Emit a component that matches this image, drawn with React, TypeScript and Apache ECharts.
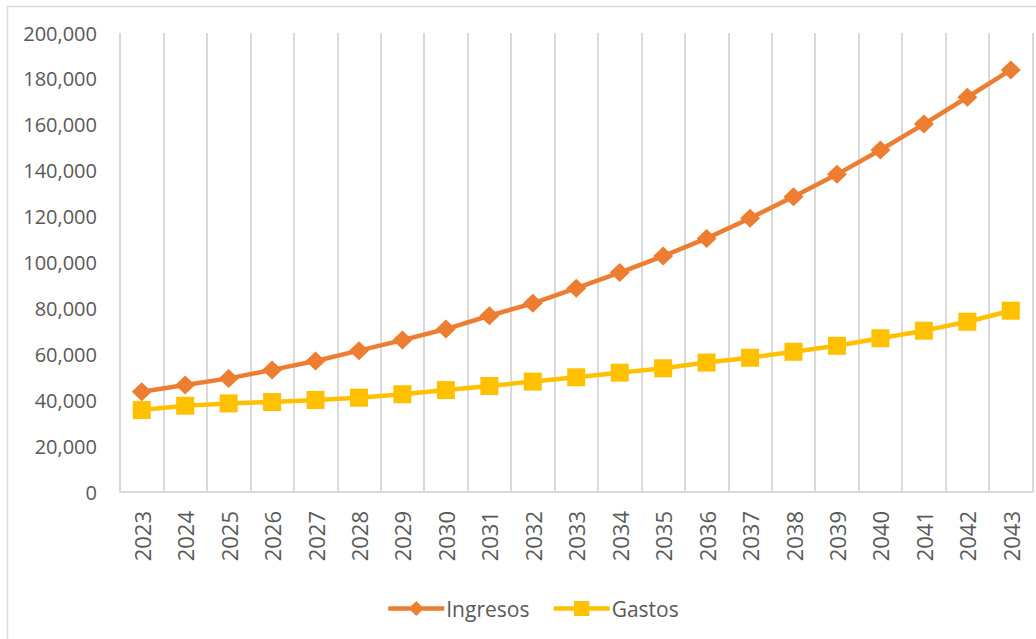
import React, { useEffect, useRef } from "react";
import * as echarts from "echarts";

const years = [
  "2023", "2024", "2025", "2026", "2027", "2028", "2029", "2030", "2031", "2032", "2033",
  "2034", "2035", "2036", "2037", "2038", "2039", "2040", "2041", "2042", "2043",
];
const ingresos = [
  43700, 46600, 49500, 53200, 57100, 61600, 66200, 71000, 76800, 82200, 88800,
  95600, 102800, 110500, 119300, 128700, 138400, 149000, 160300, 172000, 183900,
];
const gastos = [
  35700, 37600, 38600, 39200, 40100, 41100, 42600, 44400, 46200, 48100, 50000,
  52000, 53900, 56400, 58500, 61100, 63700, 67000, 70300, 74200, 79000,
];
const seriesNames = ["Ingresos", "Gastos"];
const yMin = 0;
const yMax = 200000;
const yStep = 20000;

const FONT = "'Open Sans', 'Noto Sans', sans-serif";
const TEXT = "#595959";
const GRID = "#d9d9d9";

export default function App() {
  const ref = useRef<HTMLDivElement>(null);
  useEffect(() => {
    if (!ref.current) return;
    const chart = echarts.init(ref.current, null, { renderer: "svg" });
    chart.setOption({
      animation: false,
      backgroundColor: "#ffffff",
      textStyle: { fontFamily: FONT },
      graphic: [
        {
          type: "rect",
          shape: { x: 7.5, y: 6.5, width: 1040, height: 650 },
          style: { fill: "none", stroke: GRID, lineWidth: 1.5 },
          silent: true,
        },
      ],
      grid: { left: 120, right: 3.5, top: 33, bottom: 147, containLabel: false },
      legend: {
        data: seriesNames,
        bottom: 15,
        left: 381,
        itemWidth: 56,
        itemHeight: 19,
        itemGap: 22,
        selectedMode: false,
        lineStyle: { width: 4.5 },
        textStyle: { color: TEXT, fontSize: 21, fontFamily: FONT, padding: [0, 0, 0, -3] },
      },
      xAxis: {
        type: "category",
        data: years,
        boundaryGap: true,
        axisLine: { show: true, lineStyle: { color: GRID, width: 2 } },
        axisTick: { show: false },
        splitLine: { show: true, lineStyle: { color: GRID, width: 2 } },
        axisLabel: {
          rotate: 90,
          margin: 19,
          color: TEXT,
          fontSize: 22,
          fontFamily: FONT,
          interval: 0,
        },
      },
      yAxis: {
        type: "value",
        min: yMin,
        max: yMax,
        interval: yStep,
        axisLine: { show: false },
        axisTick: { show: false },
        splitLine: { show: false },
        axisLabel: {
          margin: 23,
          color: TEXT,
          fontSize: 20,
          fontFamily: FONT,
          formatter: (v: number) => v.toLocaleString("en-US"),
        },
      },
      series: [
        {
          name: seriesNames[0],
          type: "line",
          data: ingresos,
          symbol: "diamond",
          symbolSize: [20, 19],
          color: "#ED7D31",
          lineStyle: { color: "#ED7D31", width: 4.5 },
          itemStyle: { color: "#ED7D31" },
        },
        {
          name: seriesNames[1],
          type: "line",
          data: gastos,
          symbol: "rect",
          symbolSize: 18,
          color: "#FFC000",
          lineStyle: { color: "#FFC000", width: 4.5 },
          itemStyle: { color: "#FFC000" },
        },
      ],
    });
    return () => chart.dispose();
  }, []);
  return (
    <div
      ref={ref}
      style={{ position: "fixed", left: 0, top: 0, width: 1036, height: 639, background: "#fff" }}
    />
  );
}
